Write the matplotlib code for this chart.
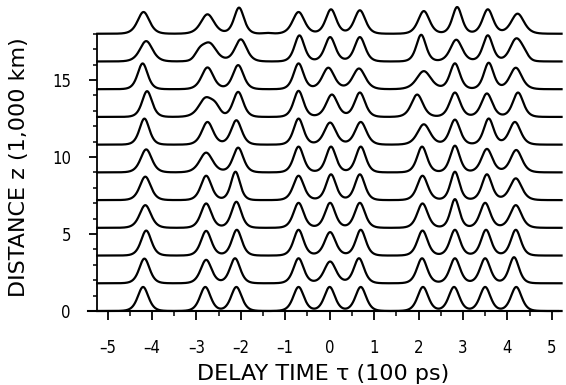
import numpy as np
import matplotlib.pyplot as plt
from matplotlib.ticker import FixedLocator

# distance of each trace (1,000 km)
z_levels = [0.0, 1.8, 3.6, 5.4, 7.2, 9.0, 10.8, 12.6, 14.4, 16.2, 18.0]

# pulse centres (100 ps) for each trace, bottom to top
pulse_pos = [
    [-4.20, -2.80, -2.10, -0.70, 0.00, 0.70, 2.10, 2.80, 3.50, 4.20],
    [-4.17, -2.78, -2.13, -0.70, 0.01, 0.66, 2.08, 2.82, 3.50, 4.15],
    [-4.13, -2.78, -2.09, -0.70, 0.01, 0.70, 2.09, 2.82, 3.52, 4.19],
    [-4.15, -2.78, -2.10, -0.70, 0.01, 0.68, 2.09, 2.82, 3.50, 4.19],
    [-4.15, -2.78, -2.12, -0.70, 0.03, 0.68, 2.09, 2.82, 3.54, 4.19],
    [-4.13, -2.78, -2.06, -0.70, 0.03, 0.70, 2.08, 2.82, 3.54, 4.20],
    [-4.17, -2.75, -2.10, -0.70, 0.01, 0.70, 2.12, 2.82, 3.58, 4.17],
    [-4.11, -2.79, -2.06, -0.70, 0.05, 0.68, 1.97, 2.82, 3.54, 4.24],
    [-4.21, -2.75, -2.06, -0.70, -0.03, 0.66, 2.12, 2.82, 3.58, 4.19],
    [-4.13, -2.71, -2.00, -0.68, 0.01, 0.68, 2.06, 2.85, 3.56, 4.19],
    [-4.19, -2.75, -2.04, -0.70, 0.03, 0.68, 2.12, 2.87, 3.56, 4.23],
]

# pulse peak heights (same units as z)
pulse_amp = [
    [1.56, 1.56, 1.56, 1.56, 1.56, 1.56, 1.56, 1.56, 1.56, 1.56],
    [1.60, 1.52, 1.62, 1.62, 1.41, 1.62, 1.62, 1.62, 1.62, 1.69],
    [1.62, 1.60, 1.67, 1.67, 1.52, 1.67, 1.62, 1.67, 1.67, 1.67],
    [1.47, 1.58, 1.69, 1.62, 1.62, 1.62, 1.58, 1.86, 1.62, 1.47],
    [1.52, 1.58, 1.84, 1.58, 1.67, 1.67, 1.58, 1.84, 1.67, 1.41],
    [1.49, 1.28, 1.60, 1.67, 1.67, 1.67, 1.67, 1.73, 1.52, 1.45],
    [1.69, 1.47, 1.58, 1.69, 1.43, 1.47, 1.32, 1.62, 1.69, 1.47],
    [1.67, 1.23, 1.62, 1.69, 1.45, 1.58, 1.45, 1.58, 1.52, 1.58],
    [1.67, 1.41, 1.56, 1.67, 1.39, 1.34, 1.17, 1.67, 1.71, 1.39],
    [1.32, 1.19, 1.43, 1.69, 1.58, 1.58, 1.73, 1.41, 1.69, 1.41],
    [1.41, 1.26, 1.69, 1.41, 1.58, 1.52, 1.47, 1.73, 1.58, 1.30],
]

# small shoulders / side bumps: trace index, centre, height
extra_trace = [9, 9, 7, 10]
extra_pos = [-2.93, 4.36, -2.57, -1.40]
extra_amp = [0.45, 0.35, 0.50, 0.05]

x_ticks = [-5, -4, -3, -2, -1, 0, 1, 2, 3, 4, 5]
y_ticks = [0, 5, 10, 15]

AREA_H = 1.56   # reference height
T0 = 0.16       # reference sech width


def pulse(t, c, h):
    w = T0 * AREA_H / h
    return h / np.cosh((t - c) / w) ** 2


fig = plt.figure(figsize=(5.66, 3.85), dpi=100)
ax = fig.add_axes([88 / 566, 1 - 311 / 385, 470 / 566, 305 / 385])

t = np.linspace(-5.23, 5.22, 2000)
for k, z in enumerate(z_levels):
    y = np.zeros_like(t)
    for c, h in zip(pulse_pos[k], pulse_amp[k]):
        y += pulse(t, c, h)
    for i, c, h in zip(extra_trace, extra_pos, extra_amp):
        if i == k:
            y += h * np.exp(-((t - c) / 0.14) ** 2)
    ax.plot(t, z + y, color='black', lw=1.6, clip_on=False, zorder=3)

ax.set_xlim(-5.44, 5.14)
ax.set_ylim(0, 19.8)

for s in ['top', 'right']:
    ax.spines[s].set_visible(False)
ax.spines['left'].set_position(('data', -5.23))
ax.spines['left'].set_bounds(0, 18)
ax.spines['left'].set_linewidth(1.3)
ax.spines['bottom'].set_linewidth(1.5)

ax.set_xticks(x_ticks)
ax.xaxis.set_minor_locator(FixedLocator([v + 0.5 for v in x_ticks[:-1]]))
ax.set_yticks(y_ticks)
ax.yaxis.set_minor_locator(FixedLocator([v for v in range(1, 19) if v % 5]))

font = dict(family='DejaVu Sans', stretch='condensed')
ax.set_xticklabels([str(v).replace('-', '\u2013') for v in x_ticks], fontsize=12, **font)
ax.set_yticklabels([str(v) for v in y_ticks], fontsize=12, **font)
ax.tick_params(axis='x', which='major', direction='out', length=6.5, width=1.3, pad=14)
ax.tick_params(axis='x', which='minor', direction='out', length=3.5, width=1.1)
ax.tick_params(axis='y', which='major', direction='out', length=6, width=1.3, pad=13)
ax.tick_params(axis='y', which='minor', direction='out', length=3, width=1.1)

fig.text(323 / 566, 1 - 374 / 385, 'DELAY TIME \u03c4 (100 ps)', ha='center', va='center',
         fontsize=16, family='DejaVu Sans')
fig.text(19 / 566, 1 - 167 / 385, 'DISTANCE z (1,000 km)', ha='center', va='center',
         rotation=90, fontsize=16, family='DejaVu Sans')

fig.savefig('out.png', dpi=100)
